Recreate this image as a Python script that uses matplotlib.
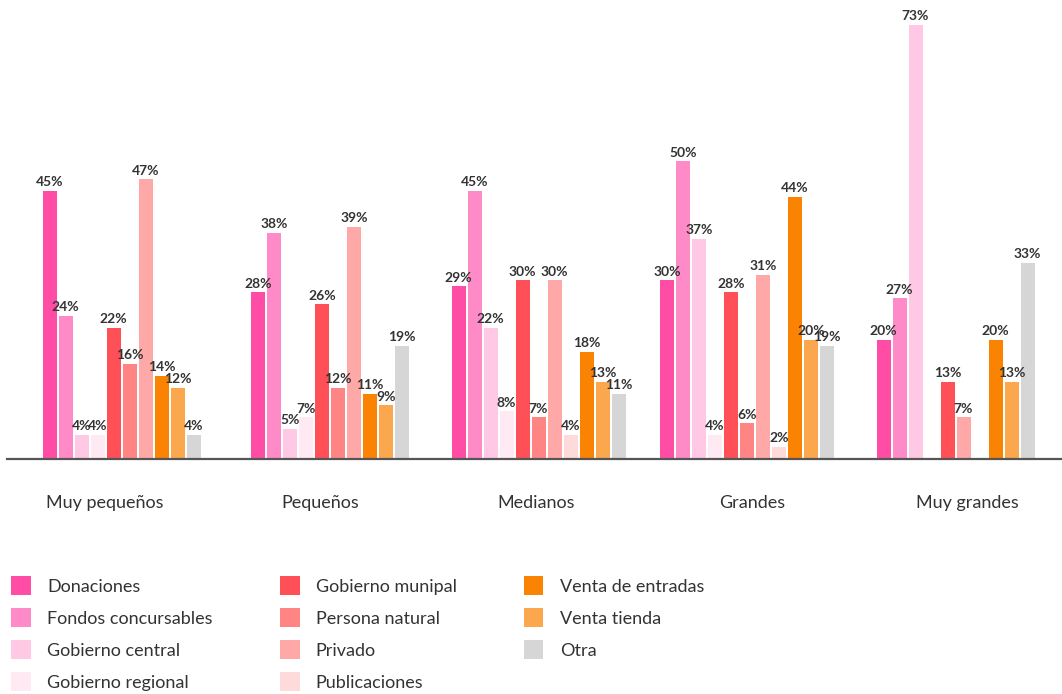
import matplotlib
matplotlib.use("Agg")
import matplotlib.pyplot as plt
from matplotlib.patches import Patch

# ---------------- data ----------------
groups = ["Muy pequeños", "Pequeños", "Medianos", "Grandes", "Muy grandes"]
series = ["Donaciones", "Fondos concursables", "Gobierno central", "Gobierno regional",
          "Gobierno munipal", "Persona natural", "Privado", "Publicaciones",
          "Venta de entradas", "Venta tienda", "Otra"]
# None = series absent from the group (no slot); 0 = empty slot
donaciones = [45, 28, 29, 30, 20]
fondos_concursables = [24, 38, 45, 50, 27]
gobierno_central = [4, 5, 22, 37, 73]
gobierno_regional = [4, 7, 8, 4, 0]
gobierno_munipal = [22, 26, 30, 28, 13]
persona_natural = [16, 12, 7, 6, None]
privado = [47, 39, 30, 31, 7]
publicaciones = [None, None, 4, 2, 0]
venta_entradas = [14, 11, 18, 44, 20]
venta_tienda = [12, 9, 13, 20, 13]
otra = [4, 19, 11, 19, 33]

values = [donaciones, fondos_concursables, gobierno_central, gobierno_regional,
          gobierno_munipal, persona_natural, privado, publicaciones,
          venta_entradas, venta_tienda, otra]

colors = ["#FF4DA6", "#FF8AC8", "#FFC8E4", "#FFEAF4",
          "#FF5057", "#FF8585", "#FFA8A8", "#FFDADA",
          "#FA8304", "#FBA74E", "#D6D6D6"]

# ---------------- layout ----------------
W, H = 1062, 694
fig = plt.figure(figsize=(W / 100, H / 100), dpi=100)
ax_left, ax_right = 7, 1062
base_y, top_y = 459, 1
ax = fig.add_axes([ax_left / W, (H - base_y) / H,
                   (ax_right - ax_left) / W, (base_y - top_y) / H])

group_px = 208.5          # pixels between group centers
slot = 16 / group_px      # slot spacing in data units
bar_w = 14 / group_px
x0 = -114.5 / group_px
ax.set_xlim(x0, x0 + (ax_right - ax_left) / group_px)
ax.set_ylim(0, (base_y - top_y) / 5.95)

label_font = "Lato"
for g in range(len(groups)):
    present = [s for s in range(len(series)) if values[s][g] is not None]
    n = len(present)
    for j, s in enumerate(present):
        v = values[s][g]
        x = g + (j - (n - 1) / 2) * slot
        if v == 0:
            continue
        ax.bar(x, v, width=bar_w, color=colors[s], linewidth=0, zorder=2)
        ax.annotate(f"{v}%", (x, v), xytext=(0, 2), textcoords="offset points",
                    ha="center", va="bottom", fontsize=10, fontweight="bold",
                    family=label_font, color="#333333", zorder=3)

for side in ["top", "right", "left"]:
    ax.spines[side].set_visible(False)
ax.spines["bottom"].set_color("#555555")
ax.spines["bottom"].set_linewidth(1.6)
ax.set_yticks([])
ax.set_xticks([])

# category labels on an evenly spaced band scale
ax2 = ax.twiny()
lab_px = 215.5
lab0 = -98.2 / lab_px
ax2.set_xlim(lab0, lab0 + (ax_right - ax_left) / lab_px)
ax2.xaxis.set_ticks_position("bottom")
ax2.set_xticks(range(len(groups)))
ax2.set_xticklabels(groups, fontsize=13, family=label_font, color="#333333")
ax2.tick_params(axis="x", length=0, pad=26)
for side in ["top", "right", "left", "bottom"]:
    ax2.spines[side].set_visible(False)
ax2.set_yticks([])

# legend
handles = [Patch(facecolor=c, edgecolor="none") for c in colors]
leg = fig.legend(handles, series, loc="upper left", bbox_to_anchor=(4 / W, 1 - 569 / H),
                 ncol=3, frameon=False, prop={"family": label_font, "size": 13},
                 handlelength=1.1, handleheight=1.2, handletextpad=0.9,
                 labelspacing=0.75, columnspacing=3.7, borderaxespad=0)
for t in leg.get_texts():
    t.set_color("#333333")

fig.savefig("out.png", dpi=100)
